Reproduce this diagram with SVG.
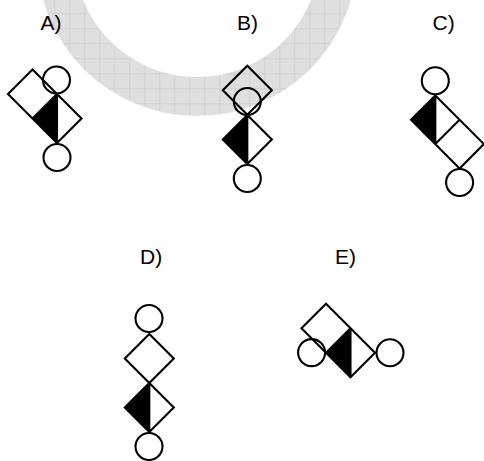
<svg xmlns="http://www.w3.org/2000/svg" width="484" height="461" viewBox="0 0 484 461">
<defs>
<pattern id="grid" patternUnits="userSpaceOnUse" width="15" height="15" x="9.3" y="13.3">
<rect width="15" height="15" fill="#dfdfdf"/>
<path d="M0,0 H15 M0,0 V15" stroke="#c4c4c4" stroke-width="1" fill="none"/>
</pattern>
</defs>
<style>
.o{fill:none;stroke:#000;stroke-width:2.1;stroke-linejoin:miter}
.b{fill:#000;stroke:none}
.t{font-family:"Liberation Sans",Arial,sans-serif;font-size:21px;fill:#000}
</style>
<rect width="484" height="461" fill="#fff"/>
<path id="ring" fill="url(#grid)" fill-rule="evenodd" d="M37,-44 a160,160 0 1,0 320,0 a160,160 0 1,0 -320,0 Z M74,-46 a123,123 0 1,0 246,0 a123,123 0 1,0 -246,0 Z"/>
<g id="labels">
<text class="t" x="40.5" y="30">A)</text>
<text class="t" x="237" y="30">B)</text>
<text class="t" x="432.5" y="30">C)</text>
<text class="t" x="140" y="264">D)</text>
<text class="t" x="335" y="264">E)</text>
</g>
<g id="connectors"></g>
<g id="figA">
<path class="b" d="M57,94 L32.5,118.5 L57,143 Z"/>
<path class="o" d="M32.5,69.5 L8,94 L57,143 L81.5,118.5 Z M57,94 L32.5,118.5 M57,94 V143"/>
<circle class="o" cx="56.5" cy="80" r="13.5"/>
<circle class="o" cx="57" cy="157.5" r="13.5"/>
</g>
<g id="figB">
<path class="o" d="M247.3,65.8 L222.8,90.3 L247.3,114.8 L271.8,90.3 Z"/>
<circle class="o" cx="247.3" cy="101.5" r="13.5"/>
<path class="b" d="M247.3,115 L222.8,139.5 L247.3,164 Z"/>
<path class="o" d="M247.3,115 L222.8,139.5 L247.3,164 L271.8,139.5 Z M247.3,115 V164"/>
<circle class="o" cx="247.3" cy="178.5" r="13.5"/>
</g>
<g id="figC">
<circle class="o" cx="435.3" cy="80.8" r="13.5"/>
<path class="b" d="M435.3,95.5 L411,119.8 L435.3,144.1 Z"/>
<path class="o" d="M435.3,95.5 L411,119.8 L459.6,168.4 L483.9,144.1 Z M459.6,119.8 L435.3,144.1 M435.3,95.5 V144.1"/>
<circle class="o" cx="459.6" cy="182.5" r="13.5"/>
</g>
<g id="figD">
<circle class="o" cx="149" cy="318.5" r="13.5"/>
<path class="o" d="M149.3,334 L124.8,358.5 L149.3,383 L173.8,358.5 Z"/>
<path class="b" d="M149.3,383 L124.8,407.5 L149.3,432 Z"/>
<path class="o" d="M149.3,383 L124.8,407.5 L149.3,432 L173.8,407.5 Z M149.3,383 V432"/>
<circle class="o" cx="149" cy="446.5" r="13.5"/>
</g>
<g id="figE">
<path class="b" d="M350.5,328.3 L326,352.8 L350.5,377.3 Z"/>
<path class="o" d="M326,303.8 L301.5,328.3 L350.5,377.3 L375,352.8 Z M350.5,328.3 L326,352.8 M350.5,328.3 V377.3"/>
<circle class="o" cx="311.6" cy="352.6" r="13.5"/>
<circle class="o" cx="390" cy="352.8" r="13.5"/>
</g>
</svg>
